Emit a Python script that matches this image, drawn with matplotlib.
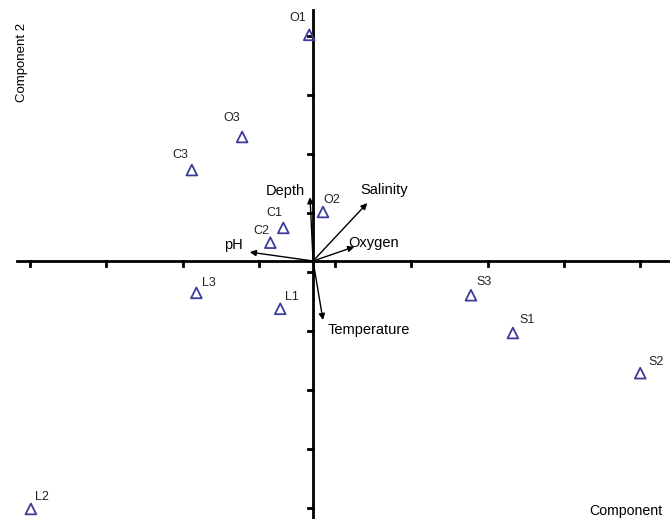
import numpy as np
import matplotlib
matplotlib.use('Agg')
import matplotlib.pyplot as plt

plt.rcParams['font.family'] = ['Liberation Sans', 'DejaVu Sans']

# sample scores (component 1, component 2)
samples = ['O1', 'O3', 'C3', 'O2', 'C1', 'C2', 'L3', 'L1', 'S3', 'S1', 'S2', 'L2']
comp1 = [-0.05, -0.93, -1.59, 0.13, -0.39, -0.56, -1.53, -0.43, 2.07, 2.62, 4.29, -3.70]
comp2 = [3.83, 2.10, 1.54, 0.83, 0.56, 0.31, -0.54, -0.81, -0.58, -1.22, -1.90, -4.20]

# variable loadings
variables = ['Depth', 'Salinity', 'Oxygen', 'pH', 'Temperature']
load1 = [-0.04, 0.71, 0.54, -0.83, 0.13]
load2 = [1.08, 0.98, 0.24, 0.15, -1.00]

# label offsets in pixels
lab_off = [(-12, 17), (-10, 19), (-11, 15), (9, 12), (-9, 15), (-9, 12),
           (12, 10), (12, 12), (13, 13), (14, 13), (16, 11), (11, 12)]
var_off = [(-25, 6), (17, 13), (19, 4), (-16, 7), (46, -10)]

xt = np.arange(-4, 5) + 0.29
yt = np.arange(-4, 5) - 0.19

fig = plt.figure(figsize=(6.70, 5.19), dpi=100)
ax = fig.add_axes([0, 0, 1, 1])
ax.set_xlim(-4.105, 4.68)
ax.set_ylim(-4.37, 4.42)
ax.axis('off')

# axes through origin
ax.plot([-3.88, 4.68], [0, 0], color='black', lw=2, zorder=2)
ax.plot([0, 0], [-4.37, 4.25], color='black', lw=2, zorder=2)
tx = 5 / 76.25
ty = 5 / 59
for x in xt:
    ax.plot([x, x], [0, -ty], color='black', lw=2, zorder=2)
for y in yt:
    ax.plot([0, -tx], [y, y], color='black', lw=2, zorder=2)

# loadings as arrows
for v, a, b, off in zip(variables, load1, load2, var_off):
    ax.annotate('', xy=(a, b), xytext=(0, 0),
                arrowprops=dict(arrowstyle='-|>', color='black', lw=1,
                                mutation_scale=9, shrinkA=0, shrinkB=0), zorder=3)
    ax.annotate(v, xy=(a, b), xytext=off, textcoords='offset pixels',
                ha='center', va='center', fontsize=10.5, color='black')

# samples
ax.scatter(comp1, comp2, marker='^', s=60, facecolors='none',
           edgecolors='#3d3d99', linewidths=1.3, zorder=4)
for s, a, b, off in zip(samples, comp1, comp2, lab_off):
    ax.annotate(s, xy=(a, b), xytext=off, textcoords='offset pixels',
                ha='center', va='center', fontsize=9, color='#222222')

fig.text(22 / 670, 1 - 62 / 519, 'Component 2', rotation=90, ha='center',
         va='center', fontsize=9.5)
fig.text(626 / 670, 1 - 511 / 519, 'Component', ha='center', va='center',
         fontsize=10.2)

fig.savefig('out.png', dpi=100)
